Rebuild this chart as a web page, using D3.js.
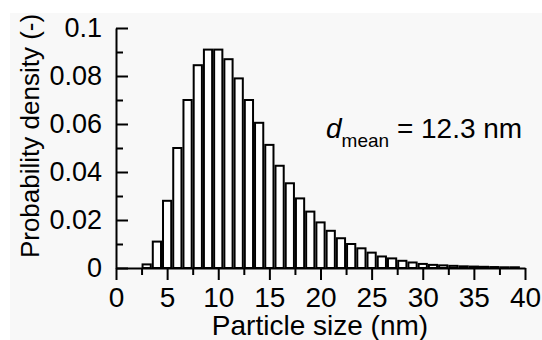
<!DOCTYPE html>
<html>
<head>
<meta charset="utf-8">
<script src="https://cdn.jsdelivr.net/npm/d3@7"></script>
<style>
  body { margin: 0; background: #ffffff; }
  text { font-family: "Liberation Sans", Arial, sans-serif; fill: #000; }
</style>
</head>
<body>
<div id="chart"></div>
<script>
// particle size bins (nm) and probability density
const sizes = [3, 4, 5, 6, 7, 8, 9, 10, 11, 12, 13, 14, 15, 16, 17, 18, 19, 20, 21,
  22, 23, 24, 25, 26, 27, 28, 29, 30, 31, 32, 33, 34, 35, 36, 37, 38, 39];
const density = [0.0015, 0.011, 0.028, 0.050, 0.070, 0.0845, 0.091, 0.091, 0.087,
  0.079, 0.070, 0.0605, 0.0513, 0.0426, 0.0353, 0.029, 0.0235, 0.019, 0.0155,
  0.0124, 0.010, 0.0082, 0.0064, 0.0048, 0.004, 0.003, 0.0023, 0.0017, 0.0013,
  0.0011, 0.0009, 0.0007, 0.0006, 0.0005, 0.0004, 0.0003, 0.0003];
const xTicks = [0, 5, 10, 15, 20, 25, 30, 35, 40];
const yTicks = [0, 0.02, 0.04, 0.06, 0.08, 0.1];
const yTickLabels = ["0", "0.02", "0.04", "0.06", "0.08", "0.1"];

const width = 542, height = 340;
const svg = d3.select("#chart").append("svg")
    .attr("width", width)
    .attr("height", height);

// light grey panel like the original figure
svg.append("rect")
    .attr("x", 10).attr("y", 13)
    .attr("width", width - 10).attr("height", height - 13)
    .attr("fill", "#f8f8f8");

const x = d3.scaleLinear().domain([0, 40]).range([116, 525]);
const y = d3.scaleLinear().domain([0, 0.1]).range([268, 28]);
const unit = x(1) - x(0);

// bars
svg.append("g")
  .selectAll("rect")
  .data(sizes)
  .join("rect")
    .attr("x", (d) => x(d - 0.5) + 1)
    .attr("width", unit - 2)
    .attr("y", (d, i) => y(density[i]))
    .attr("height", (d, i) => y(0) - y(density[i]))
    .attr("fill", "#fff")
    .attr("stroke", "#000")
    .attr("stroke-width", 2);

// x axis, minor then major ticks (outward)
svg.append("g")
    .attr("transform", `translate(0,${y(0)})`)
    .call(d3.axisBottom(x).tickValues(d3.range(2.5, 40, 5)).tickSize(7).tickFormat(""))
    .call(g => g.select(".domain").remove());
const xAxis = svg.append("g")
    .attr("transform", `translate(0,${y(0)})`)
    .call(d3.axisBottom(x).tickValues(xTicks).tickSize(12).tickSizeOuter(0));
xAxis.selectAll("text")
    .attr("y", 39).attr("dy", null)
    .style("font-size", "28px");

// y axis, ticks point inward
svg.append("g")
    .attr("transform", `translate(${x(0)},0)`)
    .call(d3.axisLeft(y).tickValues(d3.range(0.01, 0.1, 0.02)).tickSize(-7).tickFormat(""))
    .call(g => g.select(".domain").remove());
const yAxis = svg.append("g")
    .attr("transform", `translate(${x(0)},0)`)
    .call(d3.axisLeft(y).tickValues(yTicks).tickSize(-12).tickSizeOuter(0)
      .tickPadding(14).tickFormat((d, i) => yTickLabels[i]));
yAxis.selectAll("text").style("font-size", "27px");

svg.selectAll(".domain, .tick line").attr("stroke", "#000").attr("stroke-width", 2);

// axis titles
svg.append("text")
    .attr("transform", "translate(39,136) rotate(-90)")
    .attr("text-anchor", "middle")
    .style("font-size", "26px")
    .text("Probability density (-)");

svg.append("text")
    .attr("x", 320).attr("y", 335)
    .attr("text-anchor", "middle")
    .style("font-size", "28px")
    .text("Particle size (nm)");

// mean size annotation
const note = svg.append("text")
    .attr("x", 326).attr("y", 138)
    .style("font-size", "28px");
note.append("tspan").style("font-style", "italic").text("d");
note.append("tspan").attr("dy", 9).style("font-size", "19px").text("mean");
note.append("tspan").attr("dy", -9).text(" = 12.3 nm");
</script>
</body>
</html>
